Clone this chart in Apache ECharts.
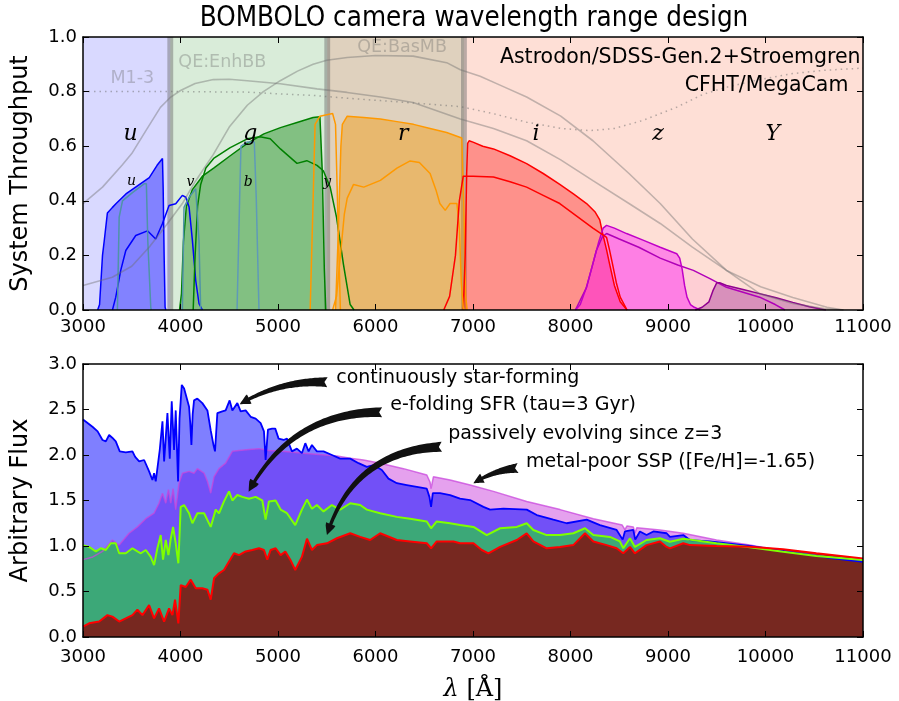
<!DOCTYPE html>
<html><head><meta charset="utf-8">
<script src="https://cdn.jsdelivr.net/npm/echarts@6/dist/echarts.min.js"></script>
<style>html,body{margin:0;padding:0;background:#fff}#c{width:899px;height:701px}</style>
</head><body><div id="c"></div>
<script>
// ---------- axes ----------
const xTicks = [3000,4000,5000,6000,7000,8000,9000,10000,11000];
const yTopTicks = [0,0.2,0.4,0.6,0.8,1.0];
const yBotTicks = [0,0.5,1.0,1.5,2.0,2.5,3.0];

// ---------- top panel: detector bands ----------
const bands = [[3000,3895],[3895,5505],[5505,6907],[6907,11000]];
const bandEdges = [3895,5505,6907];
const bandEdgeHalfWidth = 30;

// gray curves
const qeEnhBB = [[3000,0.39],[3200,0.45],[3400,0.53],[3500,0.573],[3650,0.66],[3794,0.742],[3900,0.78],[4000,0.804],[4150,0.83],[4337,0.844],[4500,0.845],[4685,0.84],[5023,0.829],[5400,0.81],[5710,0.797],[6050,0.78],[6386,0.76],[6870,0.70],[7210,0.665],[7550,0.62],[7900,0.55],[8230,0.474],[8600,0.39],[8920,0.317],[9250,0.23],[9600,0.145],[9950,0.085],[10280,0.046],[10630,0.01],[10800,0]];
const qeBasMB = [[3000,0.09],[3300,0.12],[3500,0.16],[3678,0.23],[3832,0.30],[4019,0.39],[4150,0.47],[4337,0.57],[4500,0.67],[4685,0.75],[4850,0.8],[5023,0.84],[5200,0.875],[5360,0.9],[5500,0.915],[5710,0.925],[6000,0.932],[6386,0.93],[6730,0.906],[6870,0.88],[7073,0.856],[7300,0.82],[7550,0.78],[7900,0.71],[8230,0.62],[8600,0.50],[8920,0.39],[9250,0.26],[9600,0.145],[9940,0.06],[10280,0.024],[10600,0.005],[10800,0]];
const mirrorM13 = [[3000,0.8],[3500,0.8],[4000,0.8],[4680,0.798],[5000,0.792],[5360,0.786],[5700,0.776],[6050,0.767],[6400,0.758],[6730,0.749],[6870,0.745],[7200,0.72],[7550,0.688],[7900,0.665],[8200,0.657],[8450,0.665],[8740,0.694],[9090,0.743],[9360,0.79],[9600,0.816],[9950,0.845],[10280,0.866],[10600,0.878],[11000,0.886]];

// MegaCam filters (filled)
const megaU = [[3150,0],[3170,0.02],[3200,0.2],[3220,0.26],[3250,0.355],[3300,0.375],[3340,0.39],[3440,0.425],[3540,0.45],[3680,0.485],[3760,0.53],[3815,0.555],[3822,0.45],[3832,0.2],[3842,0.01],[3850,0]];
const megaG = [[3990,0],[4010,0.06],[4030,0.25],[4060,0.38],[4120,0.44],[4225,0.49],[4340,0.52],[4510,0.565],[4685,0.61],[4855,0.645],[5025,0.668],[5195,0.687],[5360,0.705],[5430,0.708],[5455,0.5],[5475,0.15],[5490,0]];
const megaR = [[5590,0],[5620,0.3],[5645,0.6],[5660,0.68],[5710,0.71],[5880,0.705],[6050,0.70],[6220,0.69],[6390,0.68],[6560,0.665],[6730,0.65],[6885,0.63],[6905,0.4],[6925,0.05],[6940,0]];
const megaI = [[6900,0],[6920,0.2],[6935,0.5],[6945,0.61],[6960,0.62],[7000,0.615],[7100,0.6],[7210,0.59],[7380,0.565],[7550,0.536],[7720,0.50],[7890,0.46],[8030,0.425],[8165,0.39],[8250,0.36],[8300,0.33],[8330,0.28],[8370,0.22],[8400,0.17],[8450,0.09],[8510,0.03],[8580,0]];
const megaZ = [[8050,0],[8100,0.02],[8160,0.08],[8230,0.17],[8290,0.25],[8335,0.30],[8370,0.31],[8450,0.30],[8575,0.28],[8750,0.255],[8920,0.23],[9090,0.206],[9120,0.19],[9145,0.15],[9170,0.09],[9195,0.047],[9230,0.02],[9270,0.01],[9330,0]];
const megaY = [[9280,0],[9350,0.01],[9420,0.03],[9460,0.07],[9500,0.1],[9530,0.1],[9600,0.09],[9770,0.075],[9940,0.06],[10110,0.045],[10280,0.028],[10450,0.012],[10620,0]];

// Astrodon SDSS Gen.2 filters (lines)
const astroU = [[3302,0],[3336,0.047],[3387,0.145],[3439,0.218],[3541,0.273],[3661,0.29],[3746,0.26],[3814,0.316],[3883,0.383],[3951,0.389],[4019,0.42],[4054,0.413],[4088,0.377],[4122,0.255],[4156,0.108],[4190,0.023],[4225,0]];
const astroG = [[4130,0],[4150,0.2],[4175,0.38],[4207,0.46],[4260,0.52],[4340,0.555],[4510,0.595],[4685,0.627],[4815,0.635],[4920,0.627],[5025,0.59],[5195,0.537],[5295,0.547],[5400,0.53],[5465,0.51],[5535,0.45],[5600,0.34],[5670,0.17],[5740,0.02],[5780,0]];
const astroR = [[5560,0],[5600,0.05],[5640,0.2],[5680,0.35],[5710,0.41],[5775,0.46],[5880,0.45],[6050,0.475],[6220,0.52],[6355,0.546],[6450,0.54],[6560,0.50],[6620,0.44],[6660,0.39],[6715,0.365],[6765,0.39],[6835,0.39],[6860,0.3],[6880,0.1],[6900,0.01],[6910,0]];
const astroI = [[6700,0],[6760,0.05],[6820,0.2],[6860,0.4],[6900,0.49],[7000,0.49],[7210,0.487],[7380,0.47],[7550,0.45],[7720,0.42],[7890,0.39],[8060,0.345],[8230,0.30],[8370,0.266],[8400,0.22],[8430,0.17],[8470,0.1],[8510,0.047],[8580,0]];
const astroZ = [[8050,0],[8165,0.083],[8265,0.218],[8330,0.27],[8370,0.28],[8500,0.26],[8700,0.23],[8920,0.19],[9100,0.165],[9260,0.145],[9430,0.115],[9600,0.083],[9770,0.065],[9940,0.047],[10100,0.02],[10200,0]];

// Stroemgren filters
const stromU = [[3353,0],[3371,0.34],[3405,0.40],[3507,0.43],[3627,0.462],[3650,0.462],[3665,0.25],[3695,0.01],[3700,0]];
const stromV = [[4019,0],[4036,0.376],[4088,0.413],[4156,0.444],[4173,0.44],[4190,0.25],[4207,0]];
const stromB = [[4580,0],[4607,0.413],[4620,0.60],[4682,0.615],[4757,0.615],[4777,0.41],[4805,0]];
const stromY = [[5330,0],[5360,0.4],[5380,0.68],[5430,0.71],[5560,0.72],[5590,0.68],[5610,0.4],[5640,0]];

// top labels
const grayLabels = ['M1-3','QE:EnhBB','QE:BasMB'];
const grayLabelPos = [[3282,0.848],[3978,0.907],[5813,0.962]];
const setLabels = ['Astrodon/SDSS-Gen.2+Stroemgren','CFHT/MegaCam'];
const setLabelPos = [[10975,0.926],[10850,0.822]];
const bigFilterLabels = ['u','g','r','i','z','Y'];
const bigFilterPos = [[3487,0.645],[4716,0.645],[6284,0.645],[7647,0.645],[8897,0.645],[10075,0.645]];
const smallFilterLabels = ['u','v','b','y'];
const smallFilterPos = [[3497,0.47],[4101,0.467],[4695,0.467],[5504,0.467]];

// ---------- bottom panel: spectra ----------
const contSF = [[3000,2.39],[3097,2.31],[3150,2.26],[3200,2.165],[3234,2.15],[3268,2.22],[3300,2.19],[3336,2.15],[3377,2.04],[3439,2.03],[3507,2.04],[3535,1.98],[3576,1.93],[3627,1.945],[3678,1.82],[3712,1.725],[3729,1.80],[3746,1.71],[3787,2.055],[3815,2.37],[3832,1.93],[3866,2.46],[3890,1.96],[3910,2.59],[3934,2.055],[3951,2.49],[3975,1.71],[3990,2.4],[4013,2.77],[4037,2.73],[4088,2.53],[4100,2.35],[4112,2.11],[4125,2.45],[4139,2.60],[4173,2.62],[4224,2.57],[4276,2.49],[4310,2.27],[4340,2.1],[4354,2.04],[4378,2.46],[4429,2.48],[4463,2.49],[4504,2.60],[4532,2.49],[4583,2.57],[4617,2.48],[4668,2.49],[4720,2.42],[4771,2.40],[4822,2.35],[4856,2.26],[4873,1.945],[4897,2.28],[4940,2.29],[4972,2.29],[5006,2.18],[5058,2.165],[5092,2.18],[5143,2.04],[5194,2.07],[5245,2.02],[5280,2.13],[5314,2.04],[5348,2.11],[5399,2.04],[5467,2.04],[5553,2.00],[5638,1.96],[5741,1.96],[5826,1.91],[5911,1.87],[5980,1.89],[6065,1.835],[6133,1.74],[6219,1.69],[6321,1.67],[6424,1.65],[6526,1.63],[6553,1.54],[6570,1.43],[6588,1.58],[6662,1.58],[6765,1.56],[6867,1.52],[6970,1.505],[7107,1.43],[7175,1.40],[7312,1.41],[7551,1.40],[7654,1.34],[7824,1.29],[7961,1.25],[8166,1.29],[8302,1.23],[8473,1.176],[8535,1.07],[8558,1.16],[8644,1.176],[8664,1.07],[8712,1.16],[8780,1.12],[8850,1.16],[8986,1.14],[9020,1.10],[9157,1.12],[9225,1.065],[9430,1.05],[9549,1.036],[9840,1.0],[10010,0.974],[10352,0.92],[10693,0.864],[11000,0.825]];
const metalPoorSSP = [[3000,0.85],[3100,0.88],[3200,0.94],[3302,1.066],[3371,1.01],[3473,1.14],[3558,1.21],[3644,1.30],[3729,1.36],[3780,1.47],[3815,1.58],[3849,1.47],[3876,1.62],[3900,1.47],[3924,1.63],[3951,1.40],[3985,1.69],[4020,1.80],[4088,1.82],[4139,1.80],[4173,1.85],[4242,1.80],[4276,1.71],[4310,1.58],[4344,1.76],[4395,1.85],[4463,1.91],[4532,2.04],[4600,2.05],[4702,2.06],[4805,2.07],[4907,2.05],[5044,2.04],[5263,2.02],[5604,1.99],[5741,1.965],[5877,1.945],[6048,1.91],[6287,1.85],[6526,1.78],[6560,1.70],[6570,1.63],[6594,1.76],[6765,1.725],[6970,1.67],[7210,1.60],[7551,1.49],[7893,1.40],[8234,1.30],[8530,1.23],[8558,1.18],[8580,1.22],[8644,1.21],[8661,1.14],[8680,1.2],[8917,1.176],[9157,1.14],[9498,1.065],[9840,1.01],[9976,0.985],[10300,0.93],[10700,0.872],[11000,0.85]];
const eFoldSFR = [[3000,1.01],[3063,0.99],[3132,0.94],[3183,0.975],[3234,0.956],[3285,1.03],[3336,1.03],[3371,0.92],[3439,0.92],[3507,0.975],[3558,0.94],[3593,0.92],[3644,0.956],[3695,0.88],[3729,0.79],[3763,0.975],[3797,1.12],[3821,0.85],[3849,1.066],[3876,0.90],[3900,1.08],[3924,1.21],[3951,1.03],[3978,0.81],[4002,1.43],[4037,1.45],[4088,1.36],[4122,1.25],[4173,1.36],[4242,1.36],[4310,1.21],[4361,1.40],[4395,1.36],[4446,1.49],[4498,1.60],[4532,1.50],[4583,1.56],[4634,1.54],[4702,1.52],[4771,1.54],[4839,1.50],[4873,1.29],[4907,1.49],[4976,1.50],[5027,1.40],[5092,1.36],[5177,1.23],[5245,1.40],[5297,1.51],[5348,1.41],[5399,1.45],[5467,1.38],[5553,1.45],[5638,1.40],[5741,1.47],[5843,1.45],[5911,1.40],[6048,1.36],[6219,1.32],[6355,1.30],[6526,1.27],[6570,1.195],[6628,1.27],[6765,1.25],[6868,1.23],[7005,1.21],[7141,1.12],[7278,1.195],[7449,1.21],[7551,1.25],[7619,1.176],[7756,1.12],[7893,1.12],[8029,1.14],[8149,1.195],[8234,1.12],[8405,1.10],[8507,1.05],[8541,0.975],[8610,1.085],[8661,0.99],[8780,1.066],[8917,1.085],[9020,1.047],[9157,1.08],[9498,1.03],[9840,0.985],[10181,0.937],[10522,0.89],[11000,0.846]];
const passiveZ3 = [[3000,0.114],[3063,0.15],[3166,0.17],[3251,0.24],[3302,0.224],[3371,0.17],[3439,0.205],[3507,0.24],[3558,0.30],[3610,0.24],[3678,0.35],[3729,0.205],[3780,0.315],[3832,0.17],[3883,0.315],[3917,0.24],[3944,0.41],[3978,0.15],[4002,0.57],[4054,0.55],[4105,0.63],[4156,0.535],[4224,0.535],[4276,0.52],[4310,0.41],[4344,0.645],[4395,0.70],[4446,0.736],[4498,0.83],[4549,0.92],[4600,0.90],[4668,0.94],[4737,0.956],[4805,0.975],[4856,0.956],[4890,0.85],[4924,0.956],[4976,0.975],[5027,0.90],[5075,0.94],[5126,0.85],[5177,0.736],[5245,0.88],[5297,1.08],[5348,0.956],[5399,1.01],[5502,1.03],[5604,1.085],[5741,1.14],[5843,1.10],[5945,1.066],[6048,1.14],[6219,1.066],[6355,1.05],[6526,1.03],[6570,0.975],[6628,1.05],[6799,1.05],[6868,1.03],[7005,1.03],[7090,0.956],[7158,0.92],[7278,0.99],[7449,1.066],[7551,1.14],[7619,1.05],[7756,0.975],[7893,0.99],[8029,1.01],[8149,1.14],[8234,1.05],[8371,1.01],[8473,0.975],[8541,0.92],[8610,0.99],[8661,0.92],[8780,1.01],[8917,1.05],[8986,0.99],[9020,0.974],[9157,1.03],[9225,1.01],[9498,1.0],[9840,0.992],[10181,0.963],[10522,0.92],[11000,0.864]];

// annotations (data coordinates)
const annTexts = ['continuously star-forming','e-folding SFR (tau=3 Gyr)','passively evolving since z=3','metal-poor SSP ([Fe/H]=-1.65)'];
const annTextPos = [[5597,2.846],[6151,2.55],[6745,2.23],[7544,1.923]];
const annTail = [[5507,2.80],[6068,2.47],[6680,2.09],[7462,1.857]];
const annTip = [[4607,2.557],[4699,1.597],[5502,1.121],[7004,1.689]];
const annRad = [-0.15,-0.3,-0.35,-0.12];

// ---------- rendering ----------
const SANS = "'DejaVu Sans', sans-serif";
const SERIF = "'DejaVu Serif', serif";
const bandColors = ['rgba(0,0,255,0.15)','rgba(0,128,0,0.15)','rgba(139,90,20,0.28)','rgba(250,110,70,0.22)'];

function mkX(grid, pos, labels, margin){
  return {gridIndex:grid, type:'value', min:xTicks[0], max:xTicks[xTicks.length-1], interval:xTicks[1]-xTicks[0],
    position:pos, z:10,
    axisLine:{show:true, onZero:false, lineStyle:{color:'#000', width:1.5}},
    axisTick:{show:true, inside:true, length:6, lineStyle:{color:'#000', width:1}},
    axisLabel:{show:labels, fontSize:18, color:'#000', fontFamily:SANS, margin:margin, formatter:v=>String(v)},
    splitLine:{show:false}};
}
function mkY(grid, pos, ticks, labels){
  return {gridIndex:grid, type:'value', min:ticks[0], max:ticks[ticks.length-1], interval:ticks[1]-ticks[0],
    position:pos, z:10,
    axisLine:{show:true, onZero:false, lineStyle:{color:'#000', width:1.5}},
    axisTick:{show:true, inside:true, length:6, lineStyle:{color:'#000', width:1}},
    axisLabel:{show:labels, fontSize:18, color:'#000', fontFamily:SANS, margin:6, formatter:v=>v.toFixed(1)},
    splitLine:{show:false}};
}

const xAxes = [mkX(0,'bottom',true,8), mkX(0,'top',false,8), mkX(1,'bottom',true,11), mkX(1,'top',false,8)];
xAxes[2].name = '{i|λ} [Å]';
xAxes[2].nameLocation = 'middle';
xAxes[2].nameGap = 41;
xAxes[2].nameTextStyle = {fontSize:24, color:'#000', fontFamily:SERIF, rich:{i:{fontSize:24, fontStyle:'italic', fontFamily:SERIF, color:'#000'}}};
const yAxes = [mkY(0,'left',yTopTicks,true), mkY(0,'right',yTopTicks,false), mkY(1,'left',yBotTicks,true), mkY(1,'right',yBotTicks,false)];
yAxes[0].name = 'System Throughput'; yAxes[2].name = 'Arbitrary Flux';
[0,2].forEach(i=>{ yAxes[i].nameLocation='middle'; yAxes[i].nameGap=50; yAxes[i].nameTextStyle={fontSize:24,color:'#000',fontFamily:SANS}; });

const yTopMax = yTopTicks[yTopTicks.length-1];

function rectSeries(data, colors, halfW){
  return {type:'custom', xAxisIndex:0, yAxisIndex:0, silent:true, data:data, z:1,
    renderItem:(p, api)=>{
      let x0, x1;
      if(halfW){ x0 = api.value(0)-halfW; x1 = api.value(0)+halfW; } else { x0 = api.value(0); x1 = api.value(1); }
      const a = api.coord([x0, yTopMax]), b = api.coord([x1, 0]);
      return {type:'rect', shape:{x:a[0], y:a[1], width:b[0]-a[0], height:b[1]-a[1]},
        style:{fill: Array.isArray(colors) ? colors[p.dataIndex] : colors}};
    }};
}
function lineS(data, color, width, fill, xi, extra){
  const s = {type:'line', xAxisIndex:xi, yAxisIndex:xi, data:data, showSymbol:false, symbol:'none', silent:true,
    animation:false, lineStyle:{color:color, width:width}};
  if(fill) s.areaStyle = {color:fill, opacity:1};
  return Object.assign(s, extra||{});
}
function textSeries(xi, texts, pos, style){
  return {type:'custom', xAxisIndex:xi, yAxisIndex:xi, silent:true, clip:false, z:6,
    data: pos.map(p=>[p[0],p[1]]),
    renderItem:(p, api)=>{
      const c = api.coord([api.value(0), api.value(1)]);
      return {type:'text', x:c[0], y:c[1], style:Object.assign({text:texts[p.dataIndex], verticalAlign:'middle'}, style)};
    }};
}
function arrowPoly(S, E, rad){
  const dx=E[0]-S[0], dy=E[1]-S[1];
  const C=[(S[0]+E[0])/2 + rad*dy, (S[1]+E[1])/2 - rad*dx];
  const N=60, P=[];
  for(let i=0;i<=N;i++){
    const t=i/N, a=(1-t)*(1-t), b=2*(1-t)*t, c=t*t;
    const x=a*S[0]+b*C[0]+c*E[0], y=a*S[1]+b*C[1]+c*E[1];
    const tx=2*(1-t)*(C[0]-S[0])+2*t*(E[0]-C[0]), ty=2*(1-t)*(C[1]-S[1])+2*t*(E[1]-C[1]);
    const l=Math.hypot(tx,ty)||1;
    P.push({x:x,y:y,tx:tx/l,ty:ty/l,nx:-ty/l,ny:tx/l,s:0});
  }
  for(let i=1;i<=N;i++) P[i].s = P[i-1].s + Math.hypot(P[i].x-P[i-1].x, P[i].y-P[i-1].y);
  const total=P[N].s, headLen=10, headW=5, w0=5, w1=1.6, sh=total-headLen;
  const left=[], right=[];
  let headStarted=false;
  for(let i=0;i<=N;i++){
    const q=P[i];
    if(q.s<=sh){
      const hw = w0 + (w1-w0)*Math.pow(q.s/sh,0.8);
      left.push([q.x+q.nx*hw, q.y+q.ny*hw]); right.push([q.x-q.nx*hw, q.y-q.ny*hw]);
    } else {
      if(!headStarted){
        headStarted=true;
        const pq=P[i-1];
        left.push([pq.x+pq.nx*headW, pq.y+pq.ny*headW]); right.push([pq.x-pq.nx*headW, pq.y-pq.ny*headW]);
      }
      const hw = headW*(total-q.s)/headLen;
      left.push([q.x+q.nx*hw, q.y+q.ny*hw]); right.push([q.x-q.nx*hw, q.y-q.ny*hw]);
    }
  }
  const notch=[S[0]+P[0].tx*3, S[1]+P[0].ty*3];
  return left.concat(right.reverse()).concat([notch]);
}

const series = [
  rectSeries(bands, bandColors, 0),
  rectSeries(bandEdges.map(v=>[v]), 'rgba(105,105,105,0.45)', bandEdgeHalfWidth),
  // MegaCam fills
  lineS(megaU,'#0000ff',1.5,'rgba(0,0,255,0.4)',0),
  lineS(megaG,'#008000',1.5,'rgba(0,128,0,0.4)',0),
  lineS(megaR,'#ff9900',1.5,'rgba(245,150,0,0.42)',0),
  lineS(megaI,'#ff0000',1.5,'rgba(255,0,0,0.35)',0),
  lineS(astroZ,'#b000b8',1.5,'rgba(255,60,200,0.1)',0),
  lineS(megaZ,'#c000c8',1.5,'rgba(255,0,255,0.38)',0),
  lineS(megaY,'#900090',1.5,'rgba(128,0,128,0.3)',0),
  // Astrodon lines
  lineS(astroU,'#0000ff',1.5,null,0),
  lineS(astroG,'#008000',1.5,null,0),
  lineS(astroR,'#ff9900',1.5,null,0),
  lineS(astroI,'#ff0000',1.5,null,0),
  // Stroemgren
  lineS(stromU,'#4f93a8',1.5,null,0),
  lineS(stromV,'#4f93a8',1.5,null,0),
  lineS(stromB,'#5f9ab8',1.5,null,0),
  lineS(stromY,'#ff9900',1.5,null,0),
  // gray curves
  lineS(qeEnhBB,'rgba(110,110,110,0.42)',1.6,null,0),
  lineS(qeBasMB,'rgba(110,110,110,0.42)',1.6,null,0),
  lineS(mirrorM13,'rgba(110,110,110,0.5)',1.5,null,0,{lineStyle:{color:'rgba(110,110,110,0.5)',width:1.5,type:[1.5,4]}}),
  // top texts
  textSeries(0, grayLabels, grayLabelPos, {fontSize:17.5, fontFamily:SANS, fill:'rgba(100,100,100,0.35)', align:'left'}),
  textSeries(0, setLabels, setLabelPos, {fontSize:20.5, fontFamily:SANS, fill:'#000', align:'right'}),
  textSeries(0, bigFilterLabels, bigFilterPos, {fontSize:22, fontFamily:SERIF, fontStyle:'italic', fill:'#000', align:'center'}),
  textSeries(0, smallFilterLabels, smallFilterPos, {fontSize:14, fontFamily:SERIF, fontStyle:'italic', fill:'#000', align:'center'}),
  // bottom spectra
  lineS(metalPoorSSP,'rgba(200,70,220,0.75)',1.5,'rgba(204,68,221,0.5)',2),
  lineS(contSF,'#0000ff',1.8,'rgba(0,0,255,0.5)',2),
  lineS(eFoldSFR,'#7fff00',2,'#3ca878',2),
  lineS(passiveZ3,'#ff0000',2,'#772820',2),
  // annotations
  {type:'custom', xAxisIndex:2, yAxisIndex:2, silent:true, clip:false, z:8,
    data: annTail.map((t,i)=>[t[0],t[1],annTip[i][0],annTip[i][1],annRad[i]]),
    renderItem:(p, api)=>{
      const S = api.coord([api.value(0), api.value(1)]);
      const E = api.coord([api.value(2), api.value(3)]);
      return {type:'polygon', shape:{points:arrowPoly(S,E,api.value(4))}, style:{fill:'#111'}};
    }},
  textSeries(2, annTexts, annTextPos, {fontSize:19, fontFamily:SANS, fill:'#000', align:'left'})
];

const chart = echarts.init(document.getElementById('c'), null, {renderer:'canvas'});
chart.setOption({
  animation:false,
  backgroundColor:'#fff',
  grid:[{left:83, top:37, width:780, height:273, outerBoundsMode:'none', containLabel:false},
        {left:83, top:364, width:780, height:273, outerBoundsMode:'none', containLabel:false}],
  xAxis:xAxes, yAxis:yAxes, series:series,
  graphic:[{type:'text', x:474, y:19, style:{text:'BOMBOLO camera wavelength range design', fontSize:27.5,
    fontFamily:"'DejaVu Sans Condensed','DejaVu Sans',sans-serif", fill:'#000', align:'center', verticalAlign:'middle'}}]
});
</script></body></html>
